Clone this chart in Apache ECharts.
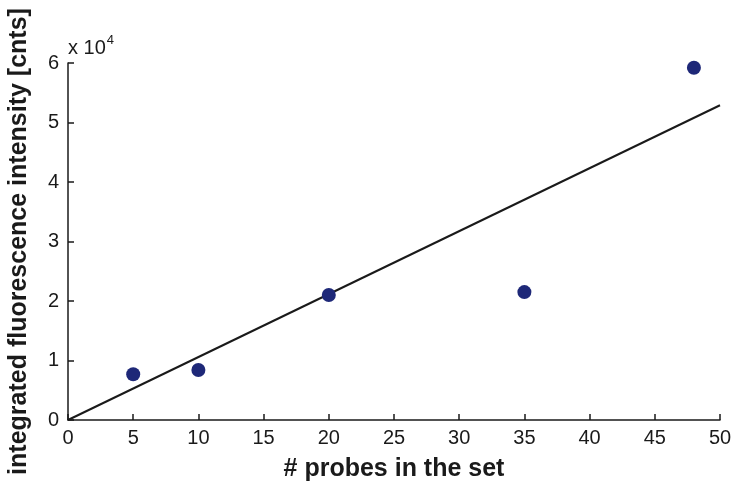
<!DOCTYPE html>
<html>
<head>
<meta charset="utf-8">
<script src="https://cdn.jsdelivr.net/npm/echarts@6/dist/echarts.min.js"></script>
<style>
  html, body { margin: 0; padding: 0; background: #fff; }
  #chart { width: 735px; height: 485px; }
</style>
</head>
<body>
<div id="chart"></div>
<script>
// Measured points: number of probes vs integrated fluorescence intensity (counts)
const probeCounts = [5, 10, 20, 35, 48];
const intensities = [7700, 8400, 21000, 21500, 59200];

// Linear fit endpoints
const fitX = [0, 50];
const fitY = [0, 52900];

// Axis ticks
const xTicks = [0, 5, 10, 15, 20, 25, 30, 35, 40, 45, 50];
const yTicks = [0, 10000, 20000, 30000, 40000, 50000, 60000];
const yScale = 10000;

const font = '"Liberation Sans", Arial, sans-serif';
const ink = '#1a1a1a';

const chart = echarts.init(document.getElementById('chart'));
chart.setOption({
  animation: false,
  backgroundColor: '#ffffff',
  grid: { left: 68, right: 15, top: 63, bottom: 65, containLabel: false, outerBoundsMode: 'none' },
  xAxis: {
    type: 'value',
    min: xTicks[0],
    max: xTicks[xTicks.length - 1],
    interval: xTicks[1] - xTicks[0],
    name: '# probes in the set',
    nameLocation: 'middle',
    nameGap: 37,
    nameTextStyle: { fontFamily: font, fontSize: 25, fontWeight: 'bold', color: ink },
    axisLine: { show: true, lineStyle: { color: ink, width: 1.5 } },
    axisTick: { show: true, inside: true, length: 6, lineStyle: { color: ink, width: 1.5 } },
    axisLabel: { fontFamily: font, fontSize: 20, color: ink, margin: 8 },
    splitLine: { show: false }
  },
  yAxis: {
    type: 'value',
    min: yTicks[0],
    max: yTicks[yTicks.length - 1],
    interval: yTicks[1] - yTicks[0],
    name: 'integrated fluorescence intensity [cnts]',
    nameLocation: 'middle',
    nameGap: 36,
    nameTextStyle: { fontFamily: font, fontSize: 25, fontWeight: 'bold', color: ink },
    axisLine: { show: true, lineStyle: { color: ink, width: 1.5 } },
    axisTick: { show: true, inside: true, length: 6, lineStyle: { color: ink, width: 1.5 } },
    axisLabel: { fontFamily: font, fontSize: 20, color: ink, margin: 9,
      formatter: v => String(v / yScale) },
    splitLine: { show: false }
  },
  graphic: [{
    type: 'text',
    left: 68,
    top: 34,
    style: {
      text: '{b|x 10}{s|4}',
      rich: {
        b: { fontFamily: font, fontSize: 20, fill: ink, verticalAlign: 'bottom' },
        s: { fontFamily: font, fontSize: 13, fill: ink, verticalAlign: 'top', padding: [0, 0, 11, 1] }
      }
    }
  }],
  series: [
    {
      type: 'line',
      data: fitX.map((x, i) => [x, fitY[i]]),
      symbol: 'none',
      lineStyle: { color: ink, width: 2 },
      z: 2
    },
    {
      type: 'scatter',
      data: probeCounts.map((x, i) => [x, intensities[i]]),
      symbol: 'circle',
      symbolSize: 14,
      itemStyle: { color: '#1e2878', opacity: 1 },
      z: 3
    }
  ]
});
</script>
</body>
</html>
